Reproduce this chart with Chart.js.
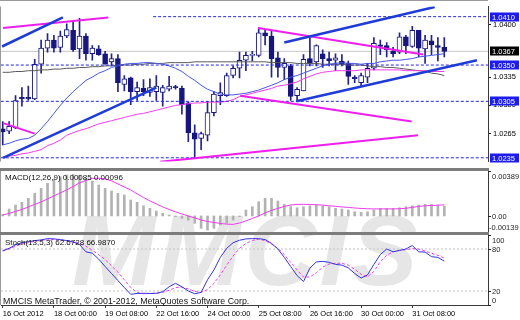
<!DOCTYPE html>
<html>
<head>
<meta charset="utf-8">
<title>EURCHF H4</title>
<script src="https://cdn.jsdelivr.net/npm/chart.js@4.4.1/dist/chart.umd.min.js"></script>
<style>
  html, body { margin: 0; padding: 0; background: #fff; }
  body { width: 520px; height: 320px; position: relative; overflow: hidden; font-family: "Liberation Sans", Arial, sans-serif; }
  .pane { position: absolute; left: 0; width: 520px; }
  .sep { position: absolute; left: 0; width: 489px; height: 3px; background: #7c7c7c; }
  .note { position: absolute; font-size: 8px; line-height: 10px; color: #111; white-space: nowrap; }
  #wm { position: absolute; left: 72px; top: 200px; font: italic bold 100px/100px "Liberation Sans", Arial, sans-serif; color: #e6e6e6; letter-spacing: 3px; }
</style>
</head>
<body>
<div id="wm">MMCIS</div>
<div class="pane" style="top:0;height:168px"><canvas id="priceChart"></canvas></div>
<div class="sep" style="top:168px"></div>
<div class="pane" style="top:171px;height:61px"><canvas id="macdChart"></canvas></div>
<div class="sep" style="top:232px"></div>
<div class="pane" style="top:235px;height:85px"><canvas id="stochChart"></canvas></div>
<div class="note" style="left:5px;top:173px">MACD(12,26,9) 0.00085 0.00096</div>
<div class="note" style="left:5px;top:238px">Stoch(13,5,3) 62.6728 66.9870</div>
<div class="note" style="left:3px;top:296px;font-size:8.8px">MMCIS MetaTrader, © 2001-2012, MetaQuotes Software Corp.</div>

<script>
// time axis (H4 bars, a label every 8 bars)
const timeLabels = ['16 Oct 2012', '18 Oct 00:00', '19 Oct 08:00', '22 Oct 16:00', '24 Oct 00:00',
                    '25 Oct 08:00', '26 Oct 16:00', '30 Oct 00:00', '31 Oct 08:00'];
const timeIdx = [0, 8, 16, 24, 32, 40, 48, 56, 64];

// candles
const open = [1.0271,1.0268,1.0272,1.0310,1.0310,1.0308,1.0351,1.0371,1.0381,1.0372,
              1.0386,1.0393,1.0370,1.0386,1.0364,1.0370,1.0364,1.0354,1.0358,1.0326,
              1.0334,1.0317,1.0321,1.0316,1.0317,1.0316,1.0320,1.0323,1.0321,1.0303,
              1.0266,1.0259,1.0263,1.0291,1.0312,1.0312,1.0337,1.0346,1.0356,1.0362,
              1.0362,1.0390,1.0386,1.0359,1.0347,1.0349,1.0312,1.0318,1.0358,1.0354,
              1.0364,1.0358,1.0356,1.0355,1.0352,1.0335,1.0328,1.0335,1.0346,1.0375,
              1.0374,1.0367,1.0366,1.0385,1.0373,1.0393,1.0370,1.0380,1.0374,1.0372];
const high  = [1.0280,1.0280,1.0312,1.0322,1.0324,1.0357,1.0381,1.0389,1.0387,1.0392,
               1.0401,1.0404,1.0408,1.0389,1.0374,1.0374,1.0367,1.0364,1.0363,1.0337,
               1.0335,1.0329,1.0332,1.0333,1.0337,1.0325,1.0336,1.0325,1.0324,1.0304,
               1.0276,1.0267,1.0305,1.0317,1.0328,1.0340,1.0349,1.0366,1.0366,1.0367,
               1.0396,1.0393,1.0393,1.0366,1.0358,1.0351,1.0322,1.0363,1.0384,1.0375,
               1.0369,1.0366,1.0364,1.0363,1.0355,1.0337,1.0340,1.0352,1.0384,1.0381,
               1.0378,1.0372,1.0390,1.0387,1.0398,1.0393,1.0387,1.0387,1.0384,1.0384];
const low   = [1.0251,1.0265,1.0271,1.0299,1.0306,1.0307,1.0340,1.0366,1.0366,1.0366,
               1.0384,1.0367,1.0358,1.0356,1.0356,1.0362,1.0351,1.0349,1.0317,1.0318,
               1.0301,1.0306,1.0312,1.0311,1.0306,1.0299,1.0318,1.0320,1.0289,1.0255,
               1.0235,1.0245,1.0256,1.0287,1.0301,1.0311,1.0334,1.0334,1.0343,1.0355,
               1.0360,1.0375,1.0335,1.0335,1.0332,1.0306,1.0305,1.0318,1.0349,1.0349,
               1.0347,1.0349,1.0343,1.0349,1.0326,1.0328,1.0324,1.0328,1.0344,1.0363,
               1.0360,1.0360,1.0364,1.0364,1.0372,1.0360,1.0352,1.0363,1.0355,1.0360];
const close = [1.0267,1.0274,1.0306,1.0308,1.0308,1.0351,1.0371,1.0381,1.0371,1.0386,
               1.0394,1.0369,1.0386,1.0364,1.0371,1.0363,1.0351,1.0358,1.0328,1.0333,
               1.0317,1.0322,1.0317,1.0322,1.0324,1.0322,1.0324,1.0322,1.0301,1.0266,
               1.0258,1.0265,1.0291,1.0314,1.0316,1.0337,1.0346,1.0356,1.0362,1.0363,
               1.0390,1.0386,1.0358,1.0347,1.0352,1.0311,1.0320,1.0357,1.0352,1.0374,
               1.0358,1.0355,1.0359,1.0351,1.0336,1.0333,1.0337,1.0346,1.0377,1.0373,
               1.0369,1.0364,1.0385,1.0374,1.0393,1.0371,1.0381,1.0375,1.0372,1.0367];

// moving averages
const maFast = [1.0251,1.0253,1.0256,1.0258,1.0259,1.0263,1.0271,1.0280,1.0290,1.0300,
                1.0309,1.0317,1.0324,1.0331,1.0335,1.0340,1.0343,1.0347,1.0349,1.0351,
                1.0352,1.0352,1.0353,1.0353,1.0352,1.0351,1.0349,1.0346,1.0342,1.0336,
                1.0331,1.0325,1.0320,1.0317,1.0314,1.0313,1.0313,1.0314,1.0315,1.0317,
                1.0319,1.0322,1.0325,1.0328,1.0332,1.0335,1.0337,1.0340,1.0343,1.0346,
                1.0349,1.0351,1.0352,1.0353,1.0352,1.0352,1.0351,1.0352,1.0352,1.0354,
                1.0355,1.0356,1.0356,1.0357,1.0358,1.0360,1.0361,1.0362,1.0363,1.0364];
const maSlow = [1.0236,1.0237,1.0238,1.0240,1.0241,1.0243,1.0245,1.0250,1.0253,1.0257,
                1.0263,1.0266,1.0269,1.0271,1.0274,1.0277,1.0279,1.0281,1.0283,1.0285,
                1.0287,1.0289,1.0290,1.0292,1.0294,1.0296,1.0298,1.0300,1.0301,1.0302,
                1.0303,1.0303,1.0304,1.0304,1.0304,1.0305,1.0307,1.0311,1.0313,1.0315,
                1.0317,1.0319,1.0321,1.0324,1.0325,1.0327,1.0329,1.0333,1.0336,1.0339,
                1.0341,1.0342,1.0343,1.0343,1.0343,1.0343,1.0344,1.0344,1.0344,1.0344,
                1.0344,1.0344,1.0344,1.0343,1.0343,1.0343,1.0343,1.0342,1.0342,1.0342];
const maLong = [1.0341,1.0341,1.0342,1.0342,1.0343,1.0343,1.0344,1.0344,1.0345,1.0345,
                1.0346,1.0346,1.0347,1.0347,1.0348,1.0348,1.0349,1.0349,1.0350,1.0350,
                1.0350,1.0351,1.0351,1.0352,1.0352,1.0352,1.0353,1.0353,1.0353,1.0353,
                1.0354,1.0354,1.0354,1.0354,1.0354,1.0354,1.0354,1.0354,1.0354,1.0354,
                1.0354,1.0354,1.0353,1.0353,1.0353,1.0353,1.0352,1.0352,1.0352,1.0352,
                1.0351,1.0351,1.0351,1.0351,1.0350,1.0350,1.0350,1.0349,1.0348,1.0348,
                1.0347,1.0347,1.0346,1.0345,1.0344,1.0343,1.0342,1.0340,1.0339,1.0337];

// drawn objects: [bar1, price1, bar2, price2]
const blueLines = [[-0.1, 1.0373, 9.4, 1.0409], [0.05, 1.0235, 24.0, 1.0322],
                   [44.0, 1.0378, 67.5, 1.0422], [45.9, 1.0305, 74.1, 1.0356]];
const pinkLines = [[0.05, 1.0396, 16.5, 1.0409], [0.05, 1.0278, 5.0, 1.0265],
                   [39.9, 1.0396, 65.7, 1.0363], [37.1, 1.0312, 63.9, 1.0280],
                   [24.6, 1.0230, 64.9, 1.0263]];
const levels = [1.0410, 1.0350, 1.0305, 1.0235];
const levelStart = [23.5, -0.3, -0.3, -0.3];
const lastPrice = 1.0367;
const priceTicks = [1.0400, 1.0335, 1.0300, 1.0265];

// MACD(12,26,9)
const macdHist = [0.00013,0.00060,0.00094,0.00118,0.00152,0.00196,0.00239,0.00282,0.00320,0.00339,
                  0.00354,0.00360,0.00354,0.00326,0.00302,0.00268,0.00239,0.00216,0.00196,0.00181,
                  0.00138,0.00118,0.00088,0.00066,0.00042,0.00023,0.00008,-0.00007,-0.00021,-0.00036,
                  -0.00064,-0.00107,-0.00122,-0.00107,-0.00079,-0.00064,-0.00036,-0.00007,0.00051,0.00080,
                  0.00123,0.00152,0.00152,0.00129,0.00100,0.00080,0.00071,0.00080,0.00088,0.00094,
                  0.00088,0.00080,0.00066,0.00060,0.00051,0.00036,0.00031,0.00036,0.00051,0.00066,
                  0.00066,0.00066,0.00071,0.00080,0.00088,0.00094,0.00100,0.00100,0.00094,0.00085];
const macdSignal = [0.00008,0.00022,0.00039,0.00056,0.00078,0.00100,0.00121,0.00147,0.00173,0.00199,
                    0.00225,0.00255,0.00286,0.00307,0.00325,0.00326,0.00320,0.00303,0.00277,0.00251,
                    0.00225,0.00191,0.00160,0.00130,0.00104,0.00078,0.00056,0.00035,0.00017,0.00000,
                    -0.00017,-0.00035,-0.00048,-0.00056,-0.00065,-0.00071,-0.00073,-0.00061,-0.00043,-0.00022,
                    0.00000,0.00026,0.00048,0.00066,0.00082,0.00095,0.00100,0.00100,0.00100,0.00097,
                    0.00094,0.00088,0.00083,0.00078,0.00074,0.00069,0.00065,0.00062,0.00061,0.00061,
                    0.00061,0.00061,0.00062,0.00066,0.00074,0.00082,0.00088,0.00091,0.00093,0.00096];
const macdRange = [-0.00139, 0.00389];

// Stochastic(13,5,3)
const stochMain = [77.6,81,86,89,90.5,92,93,94.8,94.5,93.4,
                   92,90,86.5,76,74,65.5,55,45,35,25,
                   15.3,16.5,16.7,16.5,16.7,19,26,31,26,20,
                   16,18,36,50,68,81,89,92.5,94.4,94.8,
                   94.8,93.5,88,80,68,55,42,33.5,52.7,61.5,
                   62.3,61,58,57,53,45,38.5,43,58,72,
                   80,76,78,80,85,76,75.6,69,68,62.67];
const stochSignal = [77,80,84,87,89,91,92.5,93,93.5,93,
                     92,90,88,84,78,72,65,56,47,36,
                     25,18,16,16.5,16.7,18,21,25,25.5,23,
                     19.5,18,22,31,43,57,70,81,88,92,
                     94,92,87,81,72,61,50,40,40,46,
                     54,58.5,59.6,59.6,57,51,44,40,48,62,
                     71,76,78,79,80.5,80,77,74,71,66.99];
const stochLevels = [80, 20];

Chart.defaults.font.family = '"Liberation Sans", Arial, sans-serif';
Chart.defaults.font.size = 7.5;
Chart.defaults.color = '#000';
Chart.defaults.animation = false;
Chart.defaults.plugins.legend.display = false;
Chart.defaults.plugins.tooltip.enabled = false;

const X_MIN = -0.27, X_MAX = 75.83;
const NAVY = '#16167e';
const pts = arr => arr.map((v, i) => ({ x: i, y: v }));
const seg = s => [{ x: s[0], y: s[1] }, { x: s[2], y: s[3] }];

// right side labels, boxed levels and a thin frame on the left/top
function sideLabels(items, frameTop) {
  return {
    id: 'sideLabels',
    afterDraw(chart) {
      const { ctx, chartArea: a } = chart;
      const y = chart.scales.y;
      ctx.save();
      ctx.fillStyle = '#9a9a9a';
      ctx.fillRect(0, a.top, 1, a.bottom - a.top);
      if (frameTop) ctx.fillRect(0, 0, a.right, 1);
      ctx.font = '7.5px "Liberation Sans", Arial, sans-serif';
      ctx.textBaseline = 'middle';
      items.forEach(it => {
        const raw = Math.round(y.getPixelForValue(it.v));
        let py = raw;
        if (it.clamp) py = Math.min(Math.max(py, a.top + 5), a.bottom - 5);
        if (it.box) {
          ctx.fillStyle = it.box;
          ctx.fillRect(a.right + 2, py - 4.5, 29, 9);
          ctx.fillStyle = '#fff';
        } else {
          ctx.fillStyle = '#222';
          ctx.fillRect(a.right, raw, 3, 1);
        }
        const tx = it.text.startsWith('-') ? a.right + 1 : a.right + 4;
        ctx.fillText(it.text, tx, py + 0.5);
      });
      ctx.restore();
    }
  };
}

const yRight = extra => Object.assign({
  position: 'right',
  afterFit: s => { s.width = 32; },
  grid: { display: false },
  ticks: { display: false },
  border: { display: true, color: '#3a3a3a' }
}, extra);

// ---- price window ----
const bodyColors = close.map((c, i) => c >= open[i] ? '#ffffff' : NAVY);
new Chart(document.getElementById('priceChart'), {
  type: 'bar',
  data: {
    datasets: [
      ...blueLines.map(s => ({ type: 'line', data: seg(s), borderColor: '#1f3cd6', borderWidth: 2.5, pointRadius: 0, order: 0 })),
      ...pinkLines.map(s => ({ type: 'line', data: seg(s), borderColor: '#ee1fee', borderWidth: 2, pointRadius: 0, order: 0 })),
      ...levels.map((v, k) => ({ type: 'line', data: [{ x: levelStart[k], y: v }, { x: X_MAX, y: v }],
        borderColor: '#2424e6', borderWidth: 1, borderDash: [3, 2], pointRadius: 0, order: 1 })),
      { type: 'line', data: pts(maFast), borderColor: '#4656e6', borderWidth: 1, pointRadius: 0, order: 2 },
      { type: 'line', data: pts(maSlow), borderColor: '#f23cf2', borderWidth: 1, pointRadius: 0, order: 2 },
      { type: 'line', data: pts(maLong), borderColor: '#5a5a5a', borderWidth: 1, pointRadius: 0, order: 2 },
      { label: 'body', data: close.map((c, i) => ({ x: i, y: [open[i], c] })), grouped: false,
        barThickness: 5, minBarLength: 1, backgroundColor: bodyColors, borderColor: NAVY,
        borderWidth: 1, borderSkipped: false, order: 3 },
      { label: 'wick', data: close.map((c, i) => ({ x: i, y: [low[i], high[i]] })), grouped: false,
        barThickness: 1, backgroundColor: '#23238c', order: 4 },
      { type: 'line', data: [{ x: X_MIN, y: lastPrice }, { x: X_MAX, y: lastPrice }],
        borderColor: '#c6c6c6', borderWidth: 1, pointRadius: 0, order: 5 }
    ]
  },
  options: {
    responsive: true, maintainAspectRatio: false, devicePixelRatio: 1,
    layout: { padding: { left: 1, top: 1, right: 0, bottom: 0 } },
    scales: {
      x: { type: 'linear', min: X_MIN, max: X_MAX, offset: false, display: false },
      y: yRight({
        min: 1.02304, max: 1.04226,
        afterBuildTicks: s => { s.ticks = priceTicks.map(v => ({ value: v })); },
        ticks: { display: true, padding: 2, color: '#000', callback: v => v.toFixed(4) },
        grid: { display: true, drawOnChartArea: false, tickLength: 3, color: '#222' }
      })
    }
  },
  plugins: [sideLabels([
    { v: levels[0], text: levels[0].toFixed(4), box: '#1c1cf0' },
    { v: lastPrice, text: lastPrice.toFixed(4), box: '#000000' },
    { v: levels[1], text: levels[1].toFixed(4), box: '#1c1cf0' },
    { v: levels[2], text: levels[2].toFixed(4), box: '#1c1cf0' },
    { v: levels[3], text: levels[3].toFixed(4), box: '#1c1cf0' }
  ], true)]
});

// ---- MACD window ----
new Chart(document.getElementById('macdChart'), {
  type: 'bar',
  data: {
    datasets: [
      { type: 'line', data: pts(macdSignal), borderColor: '#ee3cee', borderWidth: 1, pointRadius: 0, order: 0 },
      { data: pts(macdHist), barThickness: 2, backgroundColor: '#b2b2b2', order: 1 }
    ]
  },
  options: {
    responsive: true, maintainAspectRatio: false, devicePixelRatio: 1,
    layout: { padding: { left: 1, top: 0, right: 0, bottom: 0 } },
    scales: {
      x: { type: 'linear', min: X_MIN, max: X_MAX, offset: false, display: false },
      y: yRight({ min: macdRange[0], max: macdRange[1] })
    }
  },
  plugins: [sideLabels([
    { v: macdRange[1], text: macdRange[1].toFixed(5), clamp: true },
    { v: 0, text: '0.00', clamp: true },
    { v: macdRange[0], text: macdRange[0].toFixed(5), clamp: true }
  ], false)]
});

// ---- Stochastic window + time axis ----
new Chart(document.getElementById('stochChart'), {
  type: 'line',
  data: {
    datasets: [
      { data: pts(stochMain), borderColor: '#3434e2', borderWidth: 1, pointRadius: 0, order: 0 },
      { data: pts(stochSignal), borderColor: '#f040f0', borderWidth: 1, borderDash: [3, 2], pointRadius: 0, order: 1 },
      ...stochLevels.map(v => ({ data: [{ x: X_MIN, y: v }, { x: X_MAX, y: v }], borderColor: '#c4c4c4',
        borderWidth: 1, borderDash: [2, 2], pointRadius: 0, order: 2 }))
    ]
  },
  options: {
    responsive: true, maintainAspectRatio: false, devicePixelRatio: 1,
    layout: { padding: { left: 1, top: 0, right: 0, bottom: 0 } },
    scales: {
      x: {
        type: 'linear', min: X_MIN, max: X_MAX, offset: false,
        afterBuildTicks: s => { s.ticks = timeIdx.map(v => ({ value: v })); },
        afterFit: s => { s.height = 15; },
        ticks: { autoSkip: false, maxRotation: 0, align: 'start', padding: 1, color: '#000',
                 callback: v => timeLabels[timeIdx.indexOf(v)] },
        grid: { drawOnChartArea: false, tickLength: 3, color: '#3a3a3a' },
        border: { display: true, color: '#3a3a3a' }
      },
      y: yRight({ min: 0, max: 100 })
    }
  },
  plugins: [sideLabels([
    { v: 100, text: '100', clamp: true },
    { v: 80, text: '80', clamp: true },
    { v: 20, text: '20', clamp: true },
    { v: 0, text: '0', clamp: true }
  ], false)]
});
</script>
</body>
</html>
